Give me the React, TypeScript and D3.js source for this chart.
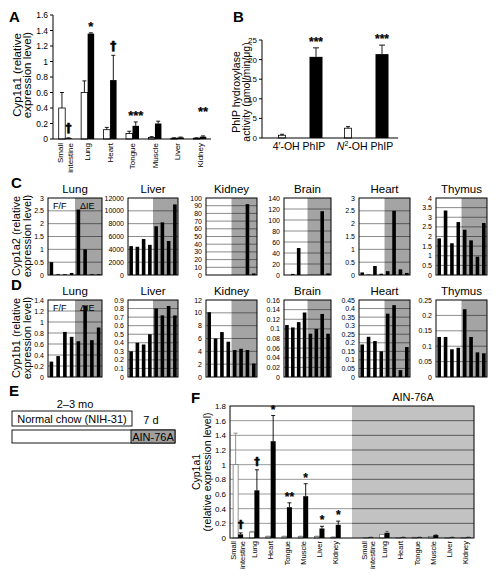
import React from 'react';
import * as d3 from 'd3';

const FONT = "'Liberation Sans', Arial, Helvetica, sans-serif";

// ---- Panel A: Cyp1a1 (F/F white, ΔIE black) ----
const tissues = ['Small intestine', 'Lung', 'Heart', 'Tongue', 'Muscle', 'Liver', 'Kidney'];
const aFF = [0.4, 0.6, 0.12, 0.07, 0.02, 0.01, 0.01];
const aFFErr = [0.6, 0.75, 0.15, 0.1, 0.03, 0.015, 0.015];
const aIE = [0.01, 1.36, 0.76, 0.17, 0.2, 0.02, 0.03];
const aIEErr = [0.015, 1.37, 1.08, 0.22, 0.23, 0.025, 0.04];
const aSig = ['†', '*', '†', '***', '', '', '**'];
const aSigAt = [0.03, 1.37, 1.08, 0.22, 0, 0, 0.27];
const aTicks = [0, 0.2, 0.4, 0.6, 0.8, 1, 1.2, 1.4, 1.6];

// ---- Panel B: PhIP hydroxylase activity ----
const bFF = [0.7, 2.5];
const bFFErr = [0.95, 2.9];
const bIE = [20.7, 21.4];
const bIEErr = [23.0, 23.7];
const bSig = ['***', '***'];
const bTicks = [0, 5, 10, 15, 20, 25];

// ---- Panels C / D ----
const organs = ['Lung', 'Liver', 'Kidney', 'Brain', 'Heart', 'Thymus'];
const c1a2Lung = [0.5, 0.03, 0.03, 0.08, 2.55, 1.0, 0.03, 0.03];
const c1a2Liver = [4500, 4400, 5600, 4700, 7600, 8200, 5300, 11000];
const c1a2Kidney = [0, 0, 0, 0, 0, 0, 92, 2];
const c1a2Brain = [0, 2, 49, 0, 0, 0, 116, 3];
const c1a2Heart = [0.1, 0.02, 0.35, 0.05, 0.15, 2.5, 0.22, 0.08];
const c1a2Thymus = [1.9, 3.35, 1.65, 2.75, 2.35, 1.8, 0.95, 2.7];
const c1a2Max = [3, 12000, 100, 140, 3, 4];
const c1a2Step = [0.5, 2000, 10, 20, 0.5, 0.5];

const c1b1Lung = [0.28, 0.38, 0.82, 0.73, 0.65, 1.3, 0.67, 0.9];
const c1b1Liver = [0.3, 0.4, 0.38, 0.5, 0.8, 0.72, 0.83, 0.72];
const c1b1Kidney = [10.1, 6.0, 7.0, 5.5, 4.2, 4.4, 4.2, 2.1];
const c1b1Brain = [0.108, 0.103, 0.114, 0.134, 0.09, 0.1, 0.131, 0.09];
const c1b1Heart = [0.19, 0.235, 0.21, 0.15, 0.37, 0.42, 0.04, 0.175];
const c1b1Thymus = [0.13, 0.13, 0.09, 0.095, 0.22, 0.13, 0.08, 0.077];
const c1b1Max = [1.4, 0.9, 12, 0.16, 0.45, 0.25];
const c1b1Step = [0.2, 0.1, 2, 0.02, 0.05, 0.05];

const cyp1a2 = [c1a2Lung, c1a2Liver, c1a2Kidney, c1a2Brain, c1a2Heart, c1a2Thymus];
const cyp1b1 = [c1b1Lung, c1b1Liver, c1b1Kidney, c1b1Brain, c1b1Heart, c1b1Thymus];

// ---- Panel F ----
const fNormCtrl = [1.0, 0.08, 0.02, 0.02, 0.02, 0.02, 0.01];
const fNormCtrlErr = [1.43, 0.09, 0.025, 0.025, 0.025, 0.025, 0.015];
const fNormKO = [0.05, 0.65, 1.32, 0.42, 0.57, 0.13, 0.18];
const fNormKOErr = [0.07, 0.93, 1.67, 0.48, 0.74, 0.16, 0.23];
const fNormSig = ['†', '†', '*', '**', '*', '*', '*'];
const fAinCtrl = [0.005, 0.05, 0.005, 0.01, 0.02, 0.005, 0.005];
const fAinKO = [0.01, 0.07, 0.01, 0.01, 0.04, 0.01, 0.01];
const fAinKOErr = [0.012, 0.09, 0.012, 0.012, 0.045, 0.012, 0.012];
const fTicks = [0, 0.2, 0.4, 0.6, 0.8, 1, 1.2, 1.4, 1.6, 1.8];

// layout
const smallLeft = [48, 128, 206, 284, 359, 436];
const smallWidth = [54, 50, 51, 47, 51, 51];

const fmt = (v: number) => String(+v.toFixed(4));

function RotLabel({ cx, cy, lines, fs, lh }: any) {
  const n = lines.length;
  return (
    <text transform={`translate(${cx},${cy}) rotate(-90)`} textAnchor="middle" fontSize={fs}>
      {lines.map((l: string, i: number) => (
        <tspan key={i} x={0} y={(i - (n - 1) / 2) * lh + fs * 0.35}>{l}</tspan>
      ))}
    </text>
  );
}

function CatLabel({ cx, top, name, fs }: any) {
  const lines = name === 'Small intestine' ? ['Small', 'intestine'] : [name];
  const lh = fs * 1.15;
  return (
    <text transform={`translate(${cx},${top}) rotate(-90)`} textAnchor="end" fontSize={fs}>
      {lines.map((l: string, i: number) => (
        <tspan key={i} x={0} y={(i - (lines.length - 1) / 2) * lh + fs * 0.35}>{l}</tspan>
      ))}
    </text>
  );
}

function Sig({ x, y, label, fs }: any) {
  if (!label) return null;
  const dagger = label === '†';
  return (
    <text x={x} y={dagger ? y - 3 : y} textAnchor="middle" fontSize={dagger ? fs - 1 : fs} fontWeight="bold"
      fill="#000" stroke="#000" strokeWidth={dagger ? 0.6 : 0.2}
      fontFamily={dagger ? "'DejaVu Sans', 'Liberation Sans', sans-serif" : FONT}>{label}</text>
  );
}

function ErrBar({ x, y1, y2, cap, stroke }: any) {
  return (
    <g stroke={stroke} strokeWidth={0.9}>
      <line x1={x} x2={x} y1={y1} y2={y2} />
      <line x1={x - cap / 2} x2={x + cap / 2} y1={y2} y2={y2} />
    </g>
  );
}

function SmallChart({ x, w, top, bottom, title, values, max, step, ff }: any) {
  const y = d3.scaleLinear().domain([0, max]).range([bottom, top]);
  const xb = d3.scaleBand<number>().domain(d3.range(values.length)).range([x, x + w]);
  const ticks = d3.range(0, max + step / 2, step);
  const bw = 3.6;
  const mid = x + w / 2;
  return (
    <g>
      <rect x={x} y={top} width={w} height={bottom - top} fill="#fff" />
      <rect x={mid} y={top} width={x + w - mid} height={bottom - top} fill="#a4a4a4" />
      {ticks.filter((t: number) => t > 1e-9 && t < max - 1e-9).map((t: number, i: number) => (
        <g key={i}>
          <line x1={x} x2={mid} y1={y(t)} y2={y(t)} stroke="#8c8c8c" strokeWidth={1} />
          <line x1={mid} x2={x + w} y1={y(t)} y2={y(t)} stroke="#585858" strokeWidth={1} />
        </g>
      ))}
      {ff && (
        <g fontSize={9}>
          <text x={x + 5} y={top + 11}>F/F</text>
          <text x={mid + 5} y={top + 11}>ΔIE</text>
        </g>
      )}
      {values.map((v: number, i: number) => (
        <rect key={i} x={(xb(i) as number) + xb.bandwidth() / 2 - bw / 2} y={y(v)} width={bw}
          height={bottom - y(v)} fill="#000" />
      ))}
      <rect x={x} y={top} width={w} height={bottom - top} fill="none" stroke="#000" strokeWidth={1} />
      {ticks.map((t: number, i: number) => (
        <text key={i} x={x - 4} y={y(t) + 2.5} textAnchor="end" fontSize={7}>{fmt(t)}</text>
      ))}
      <text x={x + w / 2} y={top - 5} textAnchor="middle" fontSize={11.5}>{title}</text>
    </g>
  );
}

export default function App() {
  // Panel A scales
  const aX = d3.scaleBand<number>().domain(d3.range(7)).range([54, 211]);
  const aY = d3.scaleLinear().domain([0, 1.6]).range([139, 15]);
  const aBW = 6.5;

  // Panel B scales
  const bX = d3.scaleBand<number>().domain([0, 1]).range([266, 398]);
  const bY = d3.scaleLinear().domain([0, 25]).range([138, 40]);

  // Panel F scales
  const fX = d3.scaleBand<number>().domain(d3.range(15)).range([230, 474]);
  const fY = d3.scaleLinear().domain([0, 1.8]).range([538, 406]);
  const fBW = 5;
  const fL = 230, fR = 474, fT = 406, fB = 538;
  const grayStart = (fX(7) as number) + fX.step() / 2;

  return (
    <svg width={502} height={577} style={{ position: 'absolute', left: 0, top: 0, background: '#fff' }}
      fontFamily={FONT}>
      <rect x={0} y={0} width={502} height={577} fill="#fff" />

      {/* ================= A ================= */}
      <text x={9} y={22} fontSize={15} fontWeight="bold">A</text>
      <RotLabel cx={22} cy={75} lines={['Cyp1a1 (relative', 'expression level)']} fs={11.5} lh={10.5} />
      {aTicks.map((t, i) => (
        <g key={i}>
          <line x1={50} x2={53} y1={aY(t)} y2={aY(t)} stroke="#000" />
          <text x={48} y={aY(t) + 3} textAnchor="end" fontSize={8.5}>{fmt(t)}</text>
        </g>
      ))}
      {tissues.map((name, i) => {
        const c = (aX(i) as number) + aX.bandwidth() / 2;
        return (
          <g key={i}>
            <rect x={c - aBW} y={aY(aFF[i])} width={aBW} height={aY(0) - aY(aFF[i])} fill="#fff" stroke="#000" strokeWidth={0.8} />
            <rect x={c} y={aY(aIE[i])} width={aBW} height={aY(0) - aY(aIE[i])} fill="#000" />
            {aFFErr[i] > aFF[i] && <ErrBar x={c - aBW / 2} y1={aY(aFF[i])} y2={aY(aFFErr[i])} cap={4} stroke="#000" />}
            {aIEErr[i] > aIE[i] && <ErrBar x={c + aBW / 2} y1={aY(aIE[i])} y2={aY(aIEErr[i])} cap={4} stroke="#000" />}
            <Sig x={c + aBW / 2} y={aY(aSigAt[i]) - 2} label={aSig[i]} fs={13} />
            <CatLabel cx={c} top={143} name={name} fs={8} />
          </g>
        );
      })}
      <line x1={53} x2={53} y1={15} y2={139} stroke="#000" />
      <line x1={53} x2={211} y1={139} y2={139} stroke="#000" />

      {/* ================= B ================= */}
      <text x={233} y={22} fontSize={15} fontWeight="bold">B</text>
      <RotLabel cx={241} cy={92} lines={['PhIP hydroxylase', 'activity (pmol/min/μg)']} fs={10.5} lh={10} />
      {bTicks.map((t, i) => (
        <g key={i}>
          <line x1={259} x2={262} y1={bY(t)} y2={bY(t)} stroke="#000" />
          <text x={257} y={bY(t) + 3} textAnchor="end" fontSize={8}>{fmt(t)}</text>
        </g>
      ))}
      {[0, 1].map((i) => {
        const c = (bX(i) as number) + bX.bandwidth() / 2;
        const wc = c - 17, kc = c + 17;
        return (
          <g key={i}>
            <rect x={wc - 3.5} y={bY(bFF[i])} width={7} height={bY(0) - bY(bFF[i])} fill="#fff" stroke="#000" strokeWidth={0.8} />
            <ErrBar x={wc} y1={bY(bFF[i])} y2={bY(bFFErr[i])} cap={4} stroke="#000" />
            <rect x={kc - 6.5} y={bY(bIE[i])} width={13} height={bY(0) - bY(bIE[i])} fill="#000" />
            <ErrBar x={kc} y1={bY(bIE[i])} y2={bY(bIEErr[i])} cap={6} stroke="#000" />
            <Sig x={kc} y={bY(bIEErr[i]) - 2} label={bSig[i]} fs={12} />
          </g>
        );
      })}
      <text x={(bX(0) as number) + bX.bandwidth() / 2} y={150} textAnchor="middle" fontSize={10.5}>4′-OH PhIP</text>
      <text x={(bX(1) as number) + bX.bandwidth() / 2} y={150} textAnchor="middle" fontSize={10.5}>
        <tspan fontStyle="italic">N</tspan>
        <tspan fontSize={7} dy={-4}>2</tspan>
        <tspan dy={4}>-OH PhIP</tspan>
      </text>
      <line x1={262} x2={262} y1={40} y2={138} stroke="#000" />
      <line x1={262} x2={398} y1={138} y2={138} stroke="#000" />

      {/* ================= C ================= */}
      <text x={11} y={188} fontSize={15} fontWeight="bold">C</text>
      <RotLabel cx={21.5} cy={236} lines={['Cyp1a2 (relative', 'expression level)']} fs={11} lh={10.5} />
      {organs.map((o, i) => (
        <SmallChart key={i} x={smallLeft[i]} w={smallWidth[i]} top={198} bottom={275} title={o}
          values={cyp1a2[i]} max={c1a2Max[i]} step={c1a2Step[i]} ff={i === 0} />
      ))}

      {/* ================= D ================= */}
      <text x={11} y={290} fontSize={15} fontWeight="bold">D</text>
      <RotLabel cx={21.5} cy={338} lines={['Cyp1b1 (relative', 'expression level)']} fs={11} lh={10.5} />
      {organs.map((o, i) => (
        <SmallChart key={i} x={smallLeft[i]} w={smallWidth[i]} top={300} bottom={377} title={o}
          values={cyp1b1[i]} max={c1b1Max[i]} step={c1b1Step[i]} ff={i === 0} />
      ))}

      {/* ================= E ================= */}
      <text x={9} y={396} fontSize={15} fontWeight="bold">E</text>
      <text x={75} y={408} textAnchor="middle" fontSize={11}>2–3 mo</text>
      <rect x={12} y={411} width={120} height={15} fill="#fff" stroke="#000" strokeWidth={0.9} />
      <text x={72} y={422.5} textAnchor="middle" fontSize={11}>Normal chow (NIH-31)</text>
      <text x={151} y={424} textAnchor="middle" fontSize={11}>7 d</text>
      <rect x={12} y={430} width={163} height={13} fill="#fff" stroke="#000" strokeWidth={0.9} />
      <rect x={131} y={430} width={44} height={13} fill="#a0a0a0" stroke="#000" strokeWidth={0.9} />
      <text x={153} y={440.5} textAnchor="middle" fontSize={11}>AIN-76A</text>

      {/* ================= F ================= */}
      <text x={191} y={403} fontSize={15} fontWeight="bold">F</text>
      <text x={(grayStart + fR) / 2} y={401} textAnchor="middle" fontSize={11}>AIN-76A</text>
      <RotLabel cx={202} cy={472} lines={['Cyp1a1', '(relative expression level)']} fs={10.5} lh={11.5} />
      <rect x={fL} y={fT} width={fR - fL} height={fB - fT} fill="#fff" />
      <rect x={grayStart} y={fT} width={fR - grayStart} height={fB - fT} fill="#c2c2c2" />
      {fTicks.filter((t) => t > 0 && t < 1.8).map((t, i) => (
        <g key={i}>
          <line x1={fL} x2={grayStart} y1={fY(t)} y2={fY(t)} stroke="#9a9a9a" strokeWidth={1} />
          <line x1={grayStart} x2={fR} y1={fY(t)} y2={fY(t)} stroke="#5a5a5a" strokeWidth={1} />
        </g>
      ))}
      {fTicks.map((t, i) => (
        <text key={i} x={226} y={fY(t) + 3} textAnchor="end" fontSize={8}>{fmt(t)}</text>
      ))}
      {tissues.map((name, i) => {
        const c = (fX(i) as number) + fX.bandwidth() / 2;
        return (
          <g key={'n' + i}>
            <rect x={c - fBW} y={fY(fNormCtrl[i])} width={fBW} height={fB - fY(fNormCtrl[i])} fill="#fff" stroke="#777" strokeWidth={0.8} />
            {fNormCtrlErr[i] > fNormCtrl[i] && <ErrBar x={c - fBW / 2} y1={fY(fNormCtrl[i])} y2={fY(fNormCtrlErr[i])} cap={4} stroke="#888" />}
            <rect x={c} y={fY(fNormKO[i])} width={fBW} height={fB - fY(fNormKO[i])} fill="#000" />
            <ErrBar x={c + fBW / 2} y1={fY(fNormKO[i])} y2={fY(fNormKOErr[i])} cap={4} stroke="#000" />
            <Sig x={c + fBW / 2} y={fY(fNormKOErr[i]) - 2} label={fNormSig[i]} fs={12} />
            <CatLabel cx={c} top={541} name={name} fs={7.5} />
          </g>
        );
      })}
      {tissues.map((name, i) => {
        const c = (fX(i + 8) as number) + fX.bandwidth() / 2;
        return (
          <g key={'a' + i}>
            <rect x={c - fBW} y={fY(fAinCtrl[i])} width={fBW} height={fB - fY(fAinCtrl[i])} fill="#fff" stroke="#777" strokeWidth={0.8} />
            <rect x={c} y={fY(fAinKO[i])} width={fBW} height={fB - fY(fAinKO[i])} fill="#000" />
            <ErrBar x={c + fBW / 2} y1={fY(fAinKO[i])} y2={fY(fAinKOErr[i])} cap={3} stroke="#555" />
            <CatLabel cx={c} top={541} name={name} fs={7.5} />
          </g>
        );
      })}
      <rect x={fL} y={fT} width={fR - fL} height={fB - fT} fill="none" stroke="#000" strokeWidth={1} />
    </svg>
  );
}
